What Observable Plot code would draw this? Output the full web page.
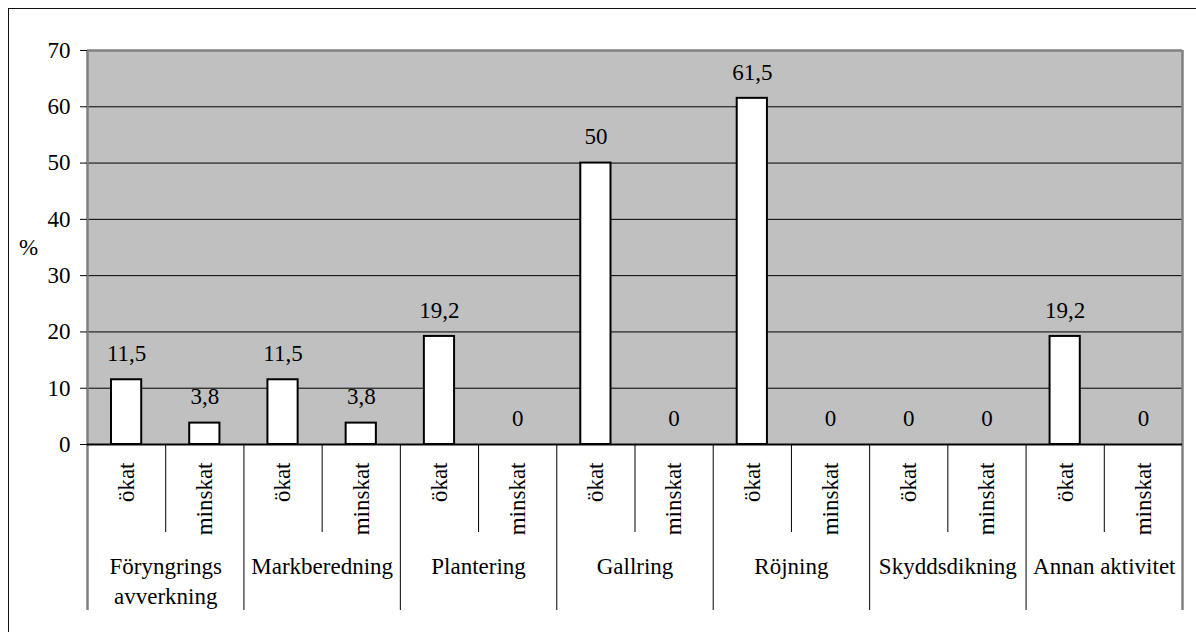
<!DOCTYPE html>
<html>
<head>
<meta charset="utf-8">
<script src="https://cdn.jsdelivr.net/npm/d3@7"></script>
<script src="https://cdn.jsdelivr.net/npm/@observablehq/plot@0.6"></script>
<style>
  html, body { margin: 0; padding: 0; background: #fff; overflow: hidden; }
  #wrap { position: relative; width: 1196px; height: 632px; }
  #border { position: absolute; left: 8px; top: 8px; width: 1400px; height: 900px; border: 1.5px solid #111; box-sizing: border-box; pointer-events: none; }
  #chart { position: absolute; left: 0; top: 0; }
  #chart svg, #chart svg text { font-family: "Liberation Serif", "Times New Roman", "DejaVu Serif", serif !important; }
</style>
</head>
<body>
<div id="wrap"><div id="border"></div><div id="chart"></div></div>
<script>
// ---- data ----
const groups = ["Föryngrings\navverkning", "Markberedning", "Plantering", "Gallring", "Röjning", "Skyddsdikning", "Annan aktivitet"];
const subs = ["ökat", "minskat"];
const okat = [11.5, 11.5, 19.2, 50, 61.5, 0, 19.2];
const minskat = [3.8, 3.8, 0, 0, 0, 0, 0];
const yTicks = [0, 10, 20, 30, 40, 50, 60, 70];
const yLabel = "%";

// ---- table built from the arrays ----
const rows = [];
groups.forEach((g, gi) => {
  [okat[gi], minskat[gi]].forEach((v, si) => {
    rows.push({i: gi * subs.length + si, group: g, sub: subs[si], value: v});
  });
});
const groupRows = groups.map((g, gi) => ({g: gi, name: g}));
const nBands = rows.length;

const W = 1196, H = 632;
const mL = 87, mR = 14, mT = 50, mB = 188;
const plotH = H - mT - mB;
const yMax = 70;
const belowPx = px => -px / (plotH / yMax); // distance below the axis, in y units

const fmt = v => String(v).replace(".", ",");
const font = "Liberation Serif";
const fs = 23;

const chart = Plot.plot({
  width: W,
  height: H,
  marginLeft: mL,
  marginRight: mR,
  marginTop: mT,
  marginBottom: mB,
  style: {fontFamily: font, fontSize: fs + "px", color: "#000", background: "transparent"},
  x: {type: "linear", domain: [0, nBands], axis: null},
  y: {domain: [0, yMax], axis: null},
  marks: [
    Plot.frame({fill: "#c0c0c0", stroke: null}),
    Plot.ruleY(yTicks.filter(t => t > 0 && t < yMax), {stroke: "#000", strokeWidth: 1}),
    Plot.ruleY([yMax], {stroke: "#808080", strokeWidth: 2.5}),
    // separators below the axis
    Plot.ruleX(rows.filter(d => d.i % 2 === 1), {x: d => d.i, y1: 0, y2: belowPx(88), stroke: "#000", strokeWidth: 1}),
    Plot.ruleX(groupRows.slice(1), {x: d => d.g * 2, y1: 0, y2: belowPx(166), stroke: "#000", strokeWidth: 1}),
    Plot.ruleX([0], {y1: belowPx(166), y2: yMax, stroke: "#808080", strokeWidth: 2.5}),
    Plot.ruleX([nBands], {y1: belowPx(166), y2: yMax, stroke: "#808080", strokeWidth: 2.5}),
    // bars
    Plot.rectY(rows.filter(d => d.value > 0), {x1: d => d.i, x2: d => d.i + 1, y: "value", insetLeft: 24, insetRight: 24, fill: "#fff", stroke: "#000", strokeWidth: 2}),
    Plot.ruleY([0], {stroke: "#000", strokeWidth: 2}),
    // y axis
    Plot.axisY({ticks: yTicks, tickSize: 7, tickPadding: 10, fontSize: fs, fontFamily: font, label: null, tickFormat: d => d}),
    Plot.text([yLabel], {frameAnchor: "left", dx: -59, text: d => d, textAnchor: "middle", fontSize: fs, fontFamily: font}),
    // value labels
    Plot.text(rows, {x: d => d.i + 0.5, y: "value", text: d => fmt(d.value), dy: -26, lineAnchor: "middle", fontSize: fs, fontFamily: font}),
    // sub-category labels
    Plot.text(rows, {x: d => d.i + 0.5, frameAnchor: "bottom", text: "sub", dy: 18, rotate: -90, textAnchor: "end", lineAnchor: "middle", fontSize: fs, fontFamily: font}),
    // group labels
    Plot.text(groupRows, {x: d => d.g * 2 + 1, frameAnchor: "bottom", text: "name", dy: 108, lineAnchor: "top", lineHeight: 1.3, fontSize: fs, fontFamily: font})
  ]
});
document.getElementById("chart").appendChild(chart);
</script>
</body>
</html>
